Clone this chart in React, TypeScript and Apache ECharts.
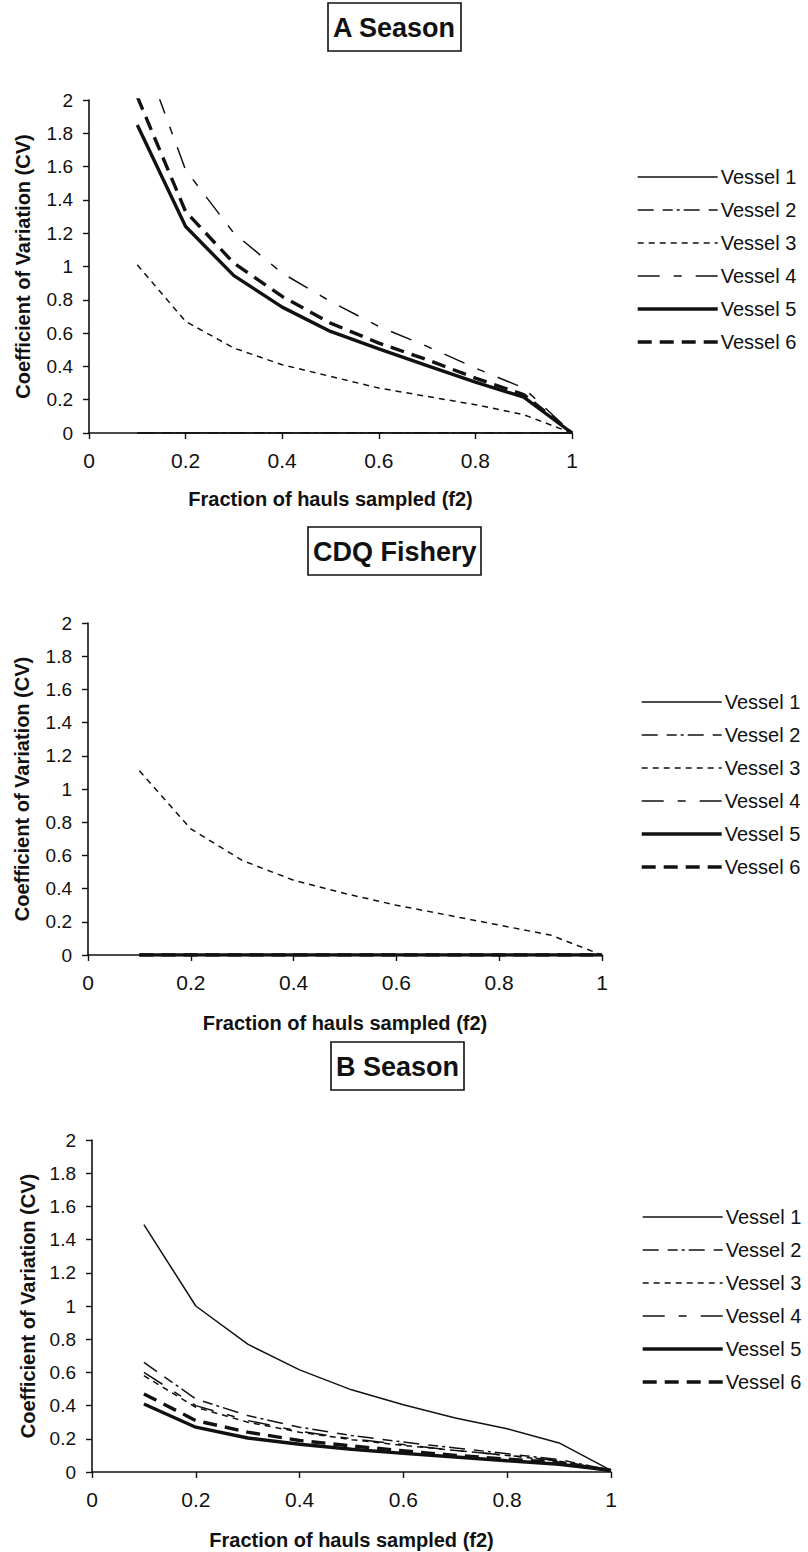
import React, { useEffect, useRef } from "react";
import * as echarts from "echarts";

// ---------- data ----------
const fractions = [0.1, 0.2, 0.3, 0.4, 0.5, 0.6, 0.7, 0.8, 0.9, 1.0];
const vesselNames = ["Vessel 1", "Vessel 2", "Vessel 3", "Vessel 4", "Vessel 5", "Vessel 6"];
const panelTitles = ["A Season", "CDQ Fishery", "B Season"];
const xAxisTitle = "Fraction of hauls sampled (f2)";
const yAxisTitle = "Coefficient of Variation (CV)";

// A Season
const aVessel1 = [0, 0, 0, 0, 0, 0, 0, 0, 0, 0];
const aVessel2 = [0, 0, 0, 0, 0, 0, 0, 0, 0, 0];
const aVessel3 = [1.01, 0.67, 0.51, 0.41, 0.34, 0.27, 0.22, 0.17, 0.11, 0];
const aVessel4 = [2.37, 1.58, 1.2, 0.96, 0.79, 0.64, 0.52, 0.39, 0.27, 0];
const aVessel5 = [1.85, 1.24, 0.945, 0.756, 0.61, 0.505, 0.405, 0.305, 0.215, 0];
const aVessel6 = [2.02, 1.33, 1.02, 0.82, 0.66, 0.54, 0.44, 0.33, 0.23, 0];

// CDQ Fishery
const cVessel1 = [0, 0, 0, 0, 0, 0, 0, 0, 0, 0];
const cVessel2 = [0, 0, 0, 0, 0, 0, 0, 0, 0, 0];
const cVessel3 = [1.11, 0.76, 0.57, 0.45, 0.37, 0.3, 0.24, 0.18, 0.12, 0];
const cVessel4 = [0, 0, 0, 0, 0, 0, 0, 0, 0, 0];
const cVessel5 = [0, 0, 0, 0, 0, 0, 0, 0, 0, 0];
const cVessel6 = [0, 0, 0, 0, 0, 0, 0, 0, 0, 0];

// B Season
const bVessel1 = [1.49, 1.0, 0.77, 0.615, 0.495, 0.405, 0.325, 0.26, 0.175, 0.01];
const bVessel2 = [0.66, 0.44, 0.34, 0.27, 0.22, 0.18, 0.145, 0.11, 0.075, 0.01];
const bVessel3 = [0.58, 0.39, 0.3, 0.24, 0.195, 0.16, 0.13, 0.1, 0.065, 0.01];
const bVessel4 = [0.6, 0.4, 0.31, 0.245, 0.2, 0.165, 0.13, 0.1, 0.068, 0.01];
const bVessel5 = [0.41, 0.27, 0.205, 0.167, 0.137, 0.112, 0.09, 0.068, 0.047, 0.01];
const bVessel6 = [0.47, 0.31, 0.24, 0.19, 0.157, 0.128, 0.1, 0.078, 0.055, 0.01];

const panelData = [
  [aVessel1, aVessel2, aVessel3, aVessel4, aVessel5, aVessel6],
  [cVessel1, cVessel2, cVessel3, cVessel4, cVessel5, cVessel6],
  [bVessel1, bVessel2, bVessel3, bVessel4, bVessel5, bVessel6],
];

// ---------- layout / style ----------
const FONT = "'Liberation Sans', Arial, Helvetica, sans-serif";
const INK = "#111";

const vesselStyles: any[] = [
  { width: 1.5, type: "solid" },
  { width: 1.5, type: [16, 9, 10, 4, 3, 4] },
  { width: 1.5, type: [6, 5] },
  { width: 1.5, type: [22, 14, 8, 14] },
  { width: 3.4, type: "solid" },
  { width: 3.4, type: [14, 8] },
];

const layouts = [
  { grid: { left: 89, top: 100, width: 483, height: 333 }, title: { left: 328, top: 3 }, legend: { left: 636, top: 167 }, yGap: 56, xGap: 56 },
  { grid: { left: 88, top: 623, width: 514, height: 332 }, title: { left: 308, top: 527 }, legend: { left: 640, top: 692 }, yGap: 56, xGap: 58 },
  { grid: { left: 92, top: 1140, width: 519, height: 332 }, title: { left: 331, top: 1042 }, legend: { left: 641, top: 1207 }, yGap: 54, xGap: 58 },
];

export default function App() {
  const ref = useRef<HTMLDivElement>(null);

  useEffect(() => {
    if (!ref.current) return;
    const chart = echarts.init(ref.current, null, { renderer: "svg" });

    const grids: any[] = [];
    const xAxes: any[] = [];
    const yAxes: any[] = [];
    const titles: any[] = [];
    const legends: any[] = [];
    const series: any[] = [];

    layouts.forEach((lay, p) => {
      grids.push({ ...lay.grid, containLabel: false });
      titles.push({
        text: panelTitles[p],
        left: lay.title.left,
        top: lay.title.top,
        padding: [11, 5, 10, 5],
        borderColor: INK,
        borderWidth: 1.6,
        backgroundColor: "#fff",
        textStyle: { fontFamily: FONT, fontSize: 27, fontWeight: "bold", color: INK },
      });
      legends.push({
        orient: "vertical",
        left: lay.legend.left,
        top: lay.legend.top,
        padding: 0,
        itemWidth: 80,
        itemHeight: 14,
        itemGap: 13,
        selectedMode: false,
        data: vesselNames.map((n, v) => ({
          name: n,
          itemStyle: { opacity: 0, borderWidth: 0 },
          lineStyle: { color: INK, width: vesselStyles[v].width, type: vesselStyles[v].type, cap: "butt" },
        })),
        textStyle: { fontFamily: FONT, fontSize: 20, color: INK, lineHeight: 20, padding: [0, 0, 0, -2] },
      });
      xAxes.push({
        gridIndex: p,
        type: "value",
        min: 0,
        max: 1,
        interval: 0.2,
        name: xAxisTitle,
        nameLocation: "middle",
        nameGap: lay.xGap,
        nameTextStyle: { fontFamily: FONT, fontSize: 20, fontWeight: "bold", color: INK },
        axisLine: { show: true, onZero: false, lineStyle: { color: INK, width: 1.6 } },
        axisTick: { show: true, inside: false, length: 6, lineStyle: { color: INK, width: 1.4 } },
        axisLabel: { fontFamily: FONT, fontSize: 21, color: INK, margin: 17 },
        splitLine: { show: false },
      });
      yAxes.push({
        gridIndex: p,
        type: "value",
        min: 0,
        max: 2,
        interval: 0.2,
        name: yAxisTitle,
        nameLocation: "middle",
        nameGap: lay.yGap,
        nameRotate: 90,
        nameTextStyle: { fontFamily: FONT, fontSize: 20, fontWeight: "bold", color: INK },
        axisLine: { show: true, lineStyle: { color: INK, width: 1.6 } },
        axisTick: { show: true, inside: false, length: 6, lineStyle: { color: INK, width: 1.4 } },
        axisLabel: { fontFamily: FONT, fontSize: 19, color: INK, margin: 16 },
        splitLine: { show: false },
      });
      panelData[p].forEach((vals, v) => {
        series.push({
          type: "line",
          name: vesselNames[v],
          xAxisIndex: p,
          yAxisIndex: p,
          data: vals.map((y, i) => [fractions[i], y]),
          symbol: "none",
          showSymbol: false,
          clip: true,
          silent: true,
          lineStyle: { color: INK, width: vesselStyles[v].width, type: vesselStyles[v].type, cap: "butt" },
          itemStyle: { color: INK },
          z: 2,
        });
      });
    });

    chart.setOption({
      animation: false,
      backgroundColor: "#fff",
      textStyle: { fontFamily: FONT },
      title: titles,
      legend: legends,
      grid: grids,
      xAxis: xAxes,
      yAxis: yAxes,
      series,
    });

    return () => chart.dispose();
  }, []);

  return (
    <div
      ref={ref}
      style={{ position: "absolute", left: 0, top: 0, width: 808, height: 1552, background: "#fff" }}
    />
  );
}
